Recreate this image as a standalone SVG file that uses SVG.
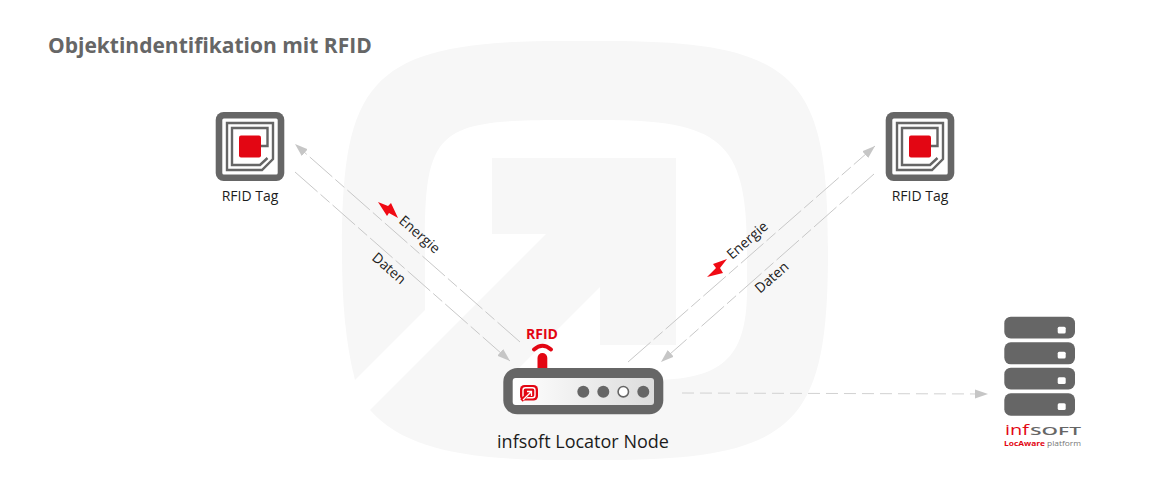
<svg xmlns="http://www.w3.org/2000/svg" width="1170" height="494" viewBox="0 0 1170 494">
<style>
text{font-family:"Open Sans","Noto Sans","Liberation Sans",sans-serif}
.l{font-size:14px;fill:#1c1c1c}
.c{stroke:#c8c8c8;stroke-width:1;fill:none;stroke-dasharray:30 4 12 4}
.h{stroke:#d2d2d2;stroke-width:1;fill:none;stroke-dasharray:12 6}
.d{fill:#666}
.r{fill:#e30613}
.b{fill:#f00a14}
.w{fill:#fff}
.ant{fill:none;stroke:#666;stroke-width:2.400}
</style>
<defs>
<marker id="a" markerWidth="14" markerHeight="12" refX="13" refY="5" orient="auto" markerUnits="userSpaceOnUse"><path d="M0 0.5L13 5L0 9.5Z" fill="#c6c6c6"/></marker>
<linearGradient id="g" x1="0" x2="1" y1="0" y2="0"><stop offset="0" stop-color="#fff"/><stop offset="1" stop-color="#dcdcdc"/></linearGradient>
<g id="tag">
<rect x="0.7" y="0" width="68.6" height="69" rx="8" class="d"/>
<rect x="7.3" y="6.5" width="55.4" height="56" rx="1.5" class="w"/>
<path class="ant" d="M12 11H58V47L47 58H12Z"/>
<path class="ant" d="M46 34H52.5V16H17V53H45L52.5 46"/>
<rect x="24" y="23.5" width="22" height="22" rx="2" class="r"/>
</g>
</defs>
<rect width="1170" height="494" fill="#fff"/>
<path id="background" fill="#f7f7f7" d="M355 380C345 340 342 300 342 250C342 80 370 41 563 41H607C800 41 828 80 828 250C828 420 800 460 607 460H563C470 460 405 450 370 410L546 234H492V158H676V345H600V287L507 380H650C720 380 747 360 747 290V250C747 140 720 120 600 120H560C440 120 425 130 425 240V310Z"/>
<text x="48" y="52.500" font-size="21" font-weight="700" fill="#666">Objektindentifikation mit RFID</text>
<g id="connectors">
<path class="c" d="M520 342L295 144" marker-end="url(#a)"/>
<path class="c" d="M295 172L510 361" marker-end="url(#a)"/>
<path class="c" d="M628 362L875 146" marker-end="url(#a)"/>
<path class="c" d="M874 174L661 362" marker-end="url(#a)"/>
<path class="h" d="M682 393L988 394" marker-end="url(#a)"/>
</g>
<g id="tag-left"><use href="#tag" x="215" y="112"/><text class="l" x="250" y="201" text-anchor="middle">RFID Tag</text></g>
<g id="tag-right"><use href="#tag" x="885" y="112"/><text class="l" x="920" y="201" text-anchor="middle">RFID Tag</text></g>
<g id="energy-left"><path class="b" d="M378 202L388 206L391 203L398 218L389 213L387 216Z"/><text class="l" transform="translate(398 222) rotate(41)">Energie</text></g>
<text id="daten-left" class="l" transform="translate(371 259) rotate(41)">Daten</text>
<g id="energy-right"><path class="b" d="M727 259L713 264L716 268L707 277L723 273L720 268Z"/><text class="l" transform="translate(732 260) rotate(-41)">Energie</text></g>
<text id="daten-right" class="l" transform="translate(760 294) rotate(-41)">Daten</text>
<g id="locator-node">
<text x="542" y="338.500" font-size="14" font-weight="700" class="r" text-anchor="middle">RFID</text>
<path d="M534 349.500Q542.500 342 551 349.500" fill="none" stroke="#e30613" stroke-width="4" stroke-linecap="round"/>
<path d="M537.500 370V358a4.900 5 0 0 1 9.800 0V370Z" class="r"/>
<rect x="503.300" y="368" width="160" height="46.300" rx="14" class="d"/>
<rect x="512.700" y="378" width="141.300" height="27" rx="3" fill="url(#g)"/>
<rect x="520" y="385" width="18" height="15.500" rx="4.500" class="r"/>
<rect x="523" y="387.800" width="12" height="10" rx="2.500" fill="none" stroke="#fff" stroke-width="1.400"/>
<path d="M521.500 400.500L531 391M526 391H531.500V396" stroke="#e30613" stroke-width="3.500" fill="none"/>
<path d="M523 400L531 392M527 391.500H531.500V396" stroke="#fff" stroke-width="1.300" fill="none"/>
<circle cx="583.300" cy="391.700" r="6" class="d"/>
<circle cx="603.300" cy="391.700" r="6" class="d"/>
<circle cx="623.300" cy="391.700" r="5.200" fill="#fff" stroke="#666" stroke-width="1.600"/>
<circle cx="643.300" cy="391.700" r="6" class="d"/>
<text x="583" y="448" font-size="18" fill="#1c1c1c" text-anchor="middle">infsoft Locator Node</text>
</g>
<g id="server">
<rect x="1004.300" y="316.700" width="70.700" height="21.700" rx="6.500" class="d"/><rect x="1057.700" y="326.700" width="8" height="6.700" rx="1.500" class="w"/>
<rect x="1004.300" y="342.300" width="70.700" height="22" rx="6.500" class="d"/><rect x="1057.700" y="351.700" width="8" height="6.700" rx="1.500" class="w"/>
<rect x="1004.300" y="367.700" width="70.700" height="21.700" rx="6.500" class="d"/><rect x="1057.700" y="377.300" width="8" height="6.700" rx="1.500" class="w"/>
<rect x="1004.300" y="393.300" width="70.700" height="22.400" rx="6.500" class="d"/><rect x="1057.700" y="403.300" width="8" height="6.700" rx="1.500" class="w"/>
<text x="1005" y="435" font-size="15" class="r" textLength="24" lengthAdjust="spacingAndGlyphs">inf</text>
<text x="1030" y="435" font-size="10" font-weight="600" fill="#666" textLength="51" lengthAdjust="spacingAndGlyphs">SOFT</text>
<text x="1004" y="445.500" font-size="6.500" font-weight="700" class="r" textLength="41" lengthAdjust="spacingAndGlyphs">LocAware</text>
<text x="1047" y="445.500" font-size="6.500" fill="#777" textLength="34" lengthAdjust="spacingAndGlyphs">platform</text>
</g>
</svg>
